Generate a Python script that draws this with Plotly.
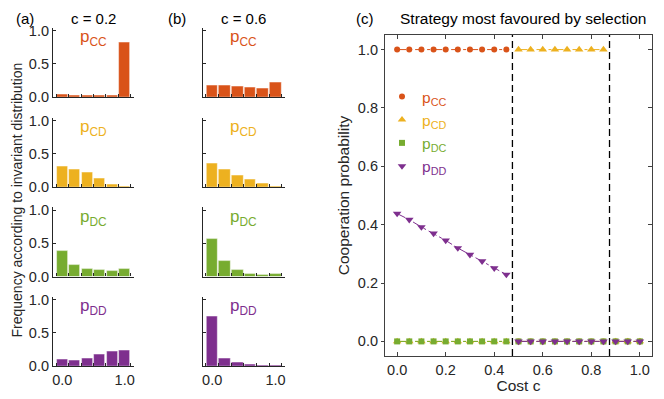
import plotly.graph_objects as go

# the page body has an 8px margin, so the figure itself is 8px smaller
OFF = 8
W, H = 664 - OFF, 399 - OFF
INK = "#262626"
FONT = "Liberation Sans, Arial, Helvetica, sans-serif"

strategies = ["CC", "CD", "DC", "DD"]
colors = ["#D95319", "#EDB120", "#77AC30", "#7E2F8E"]
symbols = ["circle", "triangle-up", "square", "triangle-down"]

# histogram bins of the cooperation probability
bins = [0.0, 0.2, 0.4, 0.6, 0.8, 1.0]
bin_edges = [-0.1, 0.1, 0.3, 0.5, 0.7, 0.9, 1.1]

# (a) c = 0.2
a_cc = [0.04, 0.03, 0.03, 0.03, 0.03, 0.83]
a_cd = [0.31, 0.27, 0.22, 0.13, 0.045, 0.01]
a_dc = [0.38, 0.18, 0.12, 0.096, 0.086, 0.11]
a_dd = [0.10, 0.09, 0.115, 0.175, 0.225, 0.23]

# (b) c = 0.6
b_cc = [0.18, 0.17, 0.155, 0.145, 0.125, 0.225]
b_cd = [0.355, 0.26, 0.18, 0.11, 0.055, 0.005]
b_dc = [0.565, 0.23, 0.10, 0.04, 0.02, 0.04]
b_dd = [0.745, 0.11, 0.055, 0.02, 0.01, 0.01]

# (c) strategy most favoured by selection
cost = [0.0, 0.05, 0.1, 0.15, 0.2, 0.25, 0.3, 0.35, 0.4, 0.45, 0.5,
        0.55, 0.6, 0.65, 0.7, 0.75, 0.8, 0.85, 0.9, 0.95, 1.0]
p_cc = [1, 1, 1, 1, 1, 1, 1, 1, 1, 1, 0, 0, 0, 0, 0, 0, 0, 0, 0, 0, 0]
p_cd = [0, 0, 0, 0, 0, 0, 0, 0, 0, 0, 1, 1, 1, 1, 1, 1, 1, 1, 0, 0, 0]
p_dc = [0, 0, 0, 0, 0, 0, 0, 0, 0, 0, 0, 0, 0, 0, 0, 0, 0, 0, 0, 0, 0]
p_dd = [0.438, 0.417, 0.392, 0.370, 0.346, 0.320, 0.297, 0.275, 0.251, 0.229,
        0, 0, 0, 0, 0, 0, 0, 0, 0, 0, 0]
boundaries = [0.475, 0.875]

panels = [("c = 0.2", "(a)", [a_cc, a_cd, a_dc, a_dd]),
          ("c = 0.6", "(b)", [b_cc, b_cd, b_dc, b_dd])]


def px(x):
    return (x - OFF) / W


def py(y):
    return 1 - (y - OFF) / H


col_px = [(53, 134), (202.7, 285)]
row_bottom_px = [97, 187, 276.5, 366]
row_h = 69.5
TICK = 14.5
TITLE = 15

fig = go.Figure()
layout = {}
annotations = []


def ax(i):
    return ("" if i == 1 else str(i))


for col, (title, tag, series) in enumerate(panels):
    x0, x1 = col_px[col]
    for r, s in enumerate(strategies):
        i = col * 4 + r + 1
        fig.add_trace(go.Bar(
            x=bins, y=series[r], width=0.18,
            marker=dict(color=colors[r], line=dict(color="rgba(255,255,255,0.55)", width=0.8)),
            xaxis="x" + ax(i), yaxis="y" + ax(i), showlegend=False))
        yb = row_bottom_px[r]
        bottom = r == 3
        layout["xaxis" + ax(i)] = dict(
            domain=[px(x0), px(x1)], anchor="y" + ax(i), range=[-0.15, 1.15],
            showline=True, linecolor=INK, linewidth=1.2, showgrid=False, zeroline=False,
            tickvals=[0, 1], ticktext=["0.0", "1.0"], ticks="", automargin=False,
            showticklabels=bottom, tickfont=dict(size=TICK, color=INK),
            minor=dict(tickvals=bin_edges, ticks="inside", ticklen=3, tickcolor=INK, tickwidth=1),
        )
        layout["yaxis" + ax(i)] = dict(
            domain=[py(yb), py(yb - row_h)], anchor="x" + ax(i), range=[0, 1.05],
            showline=True, linecolor=INK, linewidth=1.2, showgrid=False, zeroline=False,
            tickvals=[0, 0.5, 1], tickformat=".1f", ticks="inside", ticklen=3,
            automargin=False, tickcolor=INK, showticklabels=(col == 0),
            tickfont=dict(size=TICK, color=INK),
        )
        annotations.append(dict(
            text=f"p<sub>{s}</sub>", xref="x" + ax(i) + " domain", yref="y" + ax(i) + " domain",
            x=0.5, y=1.03, xanchor="center", yanchor="top", showarrow=False,
            font=dict(size=17, color=colors[r], family=FONT)))
    annotations.append(dict(text=title, xref="paper", yref="paper", x=px((x0 + x1) / 2),
                            y=1, xanchor="center", yanchor="top", showarrow=False,
                            font=dict(size=TITLE, color="black")))
    annotations.append(dict(text=tag, xref="paper", yref="paper",
                            x=px([25, 177][col]), y=1, xanchor="center",
                            yanchor="top", showarrow=False, font=dict(size=TITLE, color="black")))

# panel (c)
pvals = [p_cc, p_cd, p_dc, p_dd]
regimes = [-1] + boundaries + [2]
for k, s in enumerate(strategies):
    for lo, hi in zip(regimes[:-1], regimes[1:]):
        idx = [j for j, c in enumerate(cost) if lo < c < hi]
        fig.add_trace(go.Scatter(
            x=[cost[j] for j in idx], y=[pvals[k][j] for j in idx], mode="lines",
            line=dict(color=colors[k], width=1, dash="dashdot"),
            xaxis="x9", yaxis="y9", showlegend=False, hoverinfo="skip"))
for k, s in enumerate(strategies):
    fig.add_trace(go.Scatter(
        x=cost, y=pvals[k], mode="markers",
        marker=dict(color=colors[k], symbol=symbols[k], size=6 if k in (0, 2) else 7.5),
        name=f"<span style='color:{colors[k]}'>p<sub>{s}</sub></span>",
        xaxis="x9", yaxis="y9"))

cx0, cx1 = 385, 652
cy0, cy1 = 35, 356
layout["xaxis9"] = dict(
    domain=[px(cx0), px(cx1)], anchor="y9", range=[-0.05, 1.05], automargin=False,
    showline=True, mirror="ticks", linecolor="#404040", linewidth=1.2, showgrid=False,
    zeroline=False, dtick=0.2, tick0=0, tickformat=".1f", ticks="inside", ticklen=4,
    tickcolor="#404040", tickfont=dict(size=TICK, color=INK),
    title=dict(text="Cost c", font=dict(size=15.5, color=INK), standoff=0))
layout["yaxis9"] = dict(
    domain=[py(cy1), py(cy0)], anchor="x9", range=[-0.05, 1.05], automargin=False,
    showline=True, mirror=True, linecolor="#404040", linewidth=1.2, showgrid=False,
    zeroline=False, dtick=0.2, tick0=0, tickformat=".1f", ticks="outside", ticklen=3,
    tickcolor="#404040", tickfont=dict(size=TICK, color=INK),
    title=dict(text="Cooperation probability", font=dict(size=15.5, color=INK), standoff=4))
layout["yaxis10"] = dict(
    domain=[py(cy1), py(cy0)], anchor="x9", overlaying="y9", side="right",
    range=[-0.05, 1.05], dtick=0.2, tick0=0, ticks="inside", ticklen=4, automargin=False,
    tickcolor="#404040", showticklabels=False, showgrid=False, zeroline=False, showline=False)
fig.add_trace(go.Scatter(x=[], y=[], xaxis="x9", yaxis="y10", showlegend=False))

for b in boundaries:
    fig.add_shape(type="line", xref="x9", yref="y9 domain", x0=b, x1=b, y0=0, y1=1,
                  line=dict(color="black", width=1.3, dash="7px,4px"))

annotations.append(dict(text="(c)", xref="paper", yref="paper", x=px(364.5), y=1,
                        xanchor="center", yanchor="top", showarrow=False,
                        font=dict(size=TITLE, color="black")))
annotations.append(dict(text="Strategy most favoured by selection", xref="paper", yref="paper",
                        x=px(523), y=1, xanchor="center", yanchor="top",
                        showarrow=False, font=dict(size=15.5, color="black")))
annotations.append(dict(text="Frequency according to invariant distribution", xref="paper",
                        yref="paper", x=px(16.5), y=py(200), xanchor="center",
                        yanchor="middle", textangle=-90, showarrow=False,
                        font=dict(size=14, color=INK)))

fig.update_layout(
    width=W, height=H, margin=dict(l=0, r=0, t=0, b=0, autoexpand=False),
    paper_bgcolor="white", plot_bgcolor="white",
    font=dict(family=FONT, size=13, color=INK),
    bargap=0, annotations=annotations,
    legend=dict(x=px(382), y=py(80), xanchor="left", yanchor="top",
                bgcolor="rgba(0,0,0,0)", font=dict(size=15.5), tracegroupgap=0,
                itemwidth=30),
    **layout)

fig.write_html("out.html")
